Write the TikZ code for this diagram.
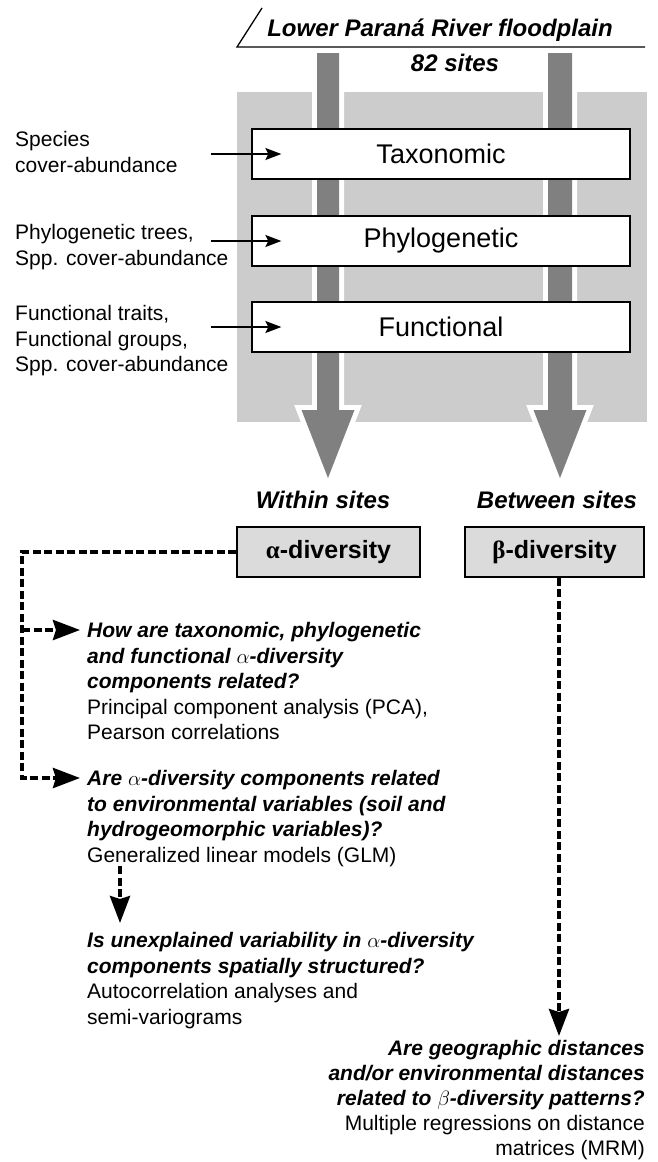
\documentclass[tikz,border=0pt]{standalone}
\usepackage{fontspec}
\setmainfont{Liberation Sans}
\newfontfamily\grk{Liberation Serif}
\usetikzlibrary{arrows.meta}
\definecolor{lightbg}{gray}{0.8}
\definecolor{darkbar}{gray}{0.5}
\definecolor{boxgray}{gray}{0.86}
\newcommand{\qf}{\bfseries\itshape}
\begin{document}
\begin{tikzpicture}[x=1pt,y=-1pt,
  mainbox/.style={draw, fill=white, line width=1.3pt, minimum width=378pt, minimum height=50pt, inner sep=0pt, font=\fontsize{27}{32}\selectfont},
  divbox/.style={draw, fill=boxgray, line width=1.3pt, minimum height=50pt, inner sep=0pt, font=\fontsize{25}{30}\selectfont\bfseries},
  lbl/.style={align=left, anchor=north west, inner sep=0pt, font=\fontsize{21}{25.5}\selectfont},
  qtext/.style={align=left, anchor=north west, inner sep=0pt, font=\fontsize{21}{25.5}\selectfont},
  heading/.style={font=\fontsize{24}{28}\selectfont\bfseries\itshape, inner sep=0pt, anchor=base},
  smallarr/.style={line width=1.8pt, -{Stealth[length=16pt,width=12pt,inset=3pt]}},
  dashline/.style={line width=4pt, dash pattern=on 8pt off 3.5pt, -{Stealth[length=27pt,width=20pt,inset=3pt]}},
  bigarrow/.style={fill=darkbar, preaction={draw=white, line width=10pt, line join=miter}}
]
\useasboundingbox (0,0) rectangle (657,1162);

% light grey background panel
\node[fill=lightbg, minimum width=410pt, minimum height=330pt, inner sep=0pt, anchor=north west] (bg) at (237,92) {};

% big grey arrows
\path[bigarrow] (317,53) -- (339,53) -- (339,410) -- (354.5,410) -- (328,478) -- (301.5,410) -- (317,410) -- cycle;
\path[bigarrow] (548,53) -- (572,53) -- (572,410) -- (586.5,410) -- (560,478) -- (533.5,410) -- (548,410) -- cycle;

% title
\draw[line width=1.3pt] (262,8) -- (237,47) -- (645,47);
\node[heading] (title) at (440,36) {Lower Paraná River floodplain};
\node[heading] (sites) at (455,71) {82 sites};

% main boxes
\node[mainbox] (tax) at (441,154) {Taxonomic};
\node[mainbox] (phy) at (441,241) {Phylogenetic};
\node[mainbox] (fun) at (441,327) {Functional};

% input labels
\node[lbl] (lsp) at (15,128.6) {\strut Species\\cover-abundance};
\node[lbl] (lph) at (15,221.6) {\strut Phylogenetic trees,\\Spp. cover-abundance};
\node[lbl] (lfu) at (15,302.6) {\strut Functional traits,\\Functional groups,\\Spp. cover-abundance};

\draw[smallarr] ([xshift=-40pt]tax.west) -- ([xshift=30pt]tax.west);
\draw[smallarr] ([xshift=-40pt]phy.west) -- ([xshift=30pt]phy.west);
\draw[smallarr] ([xshift=-40pt]fun.west) -- ([xshift=30pt]fun.west);

% within / between
\node[heading] (within) at (323,508.5) {Within sites};
\node[heading] (between) at (557,508.5) {Between sites};

\node[divbox, minimum width=183pt] (alpha) at (328.5,552) {{\grk α}-diversity};
\node[divbox, minimum width=179pt] (beta) at (554.5,552) {{\grk β}-diversity};

% questions
\node[qtext] (q1) at (87,619.6) {{\qf\strut How are taxonomic, phylogenetic}\\{\qf and functional $\alpha$-diversity}\\{\qf components related?}\\Principal component analysis (PCA),\\Pearson correlations};
\node[qtext] (q2) at (87,767.6) {{\qf\strut Are $\alpha$-diversity components related}\\{\qf to environmental variables (soil and}\\{\qf hydrogeomorphic variables)?}\\Generalized linear models (GLM)};
\node[qtext] (q3) at (87,929.6) {{\qf\strut Is unexplained variability in $\alpha$-diversity}\\{\qf components spatially structured?}\\Autocorrelation analyses and\\semi-variograms};
\node[qtext, align=right, anchor=north east, font=\fontsize{21}{25}\selectfont] (q4) at (645,1038) {{\qf\strut Are geographic distances}\\{\qf and/or environmental distances}\\{\qf related to $\beta$-diversity patterns?}\\Multiple regressions on distance\\matrices (MRM)};

% dashed connectors
\coordinate (dl) at (22,552);
\coordinate (b1) at (22,630);
\coordinate (t1) at (80,630);
\coordinate (t2) at (80,778);
\draw[dashline] (alpha.west) -- (dl) |- (t2);
\draw[dashline] (b1) -- (t1);
\coordinate (g1) at (120,866);
\coordinate (g2) at (120,923);
\draw[dashline] (g1) -- (g2);
\coordinate (t4) at (559,1036);
\draw[dashline] (beta.south -| t4) -- (t4);
\end{tikzpicture}
\end{document}
